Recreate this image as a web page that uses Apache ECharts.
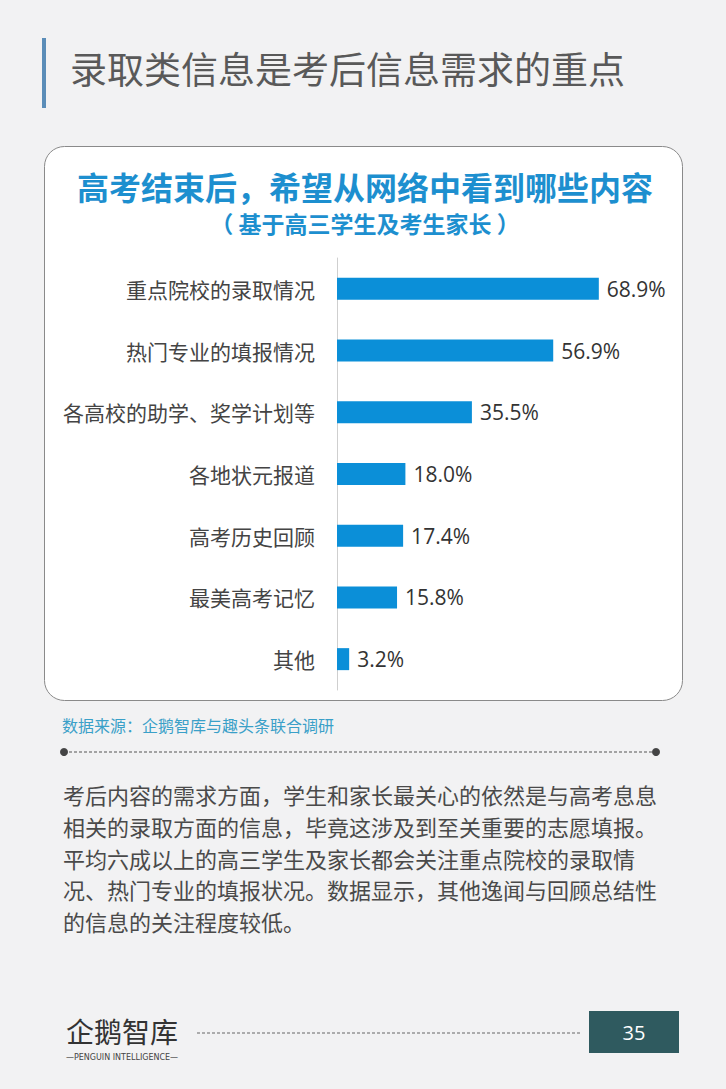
<!DOCTYPE html>
<html>
<head>
<meta charset="utf-8">
<script src="https://cdn.jsdelivr.net/npm/echarts@6/dist/echarts.min.js"></script>
<style>
html,body{margin:0;padding:0;background:#f2f2f3;}
#c{width:726px;height:1089px;}
</style>
</head>
<body>
<div id="c"></div>
<script>
var categories = ['重点院校的录取情况','热门专业的填报情况','各高校的助学、奖学计划等','各地状元报道','高考历史回顾','最美高考记忆','其他'];
var values = [68.9, 56.9, 35.5, 18.0, 17.4, 15.8, 3.2];
var paragraph = [
  '考后内容的需求方面，学生和家长最关心的依然是与高考息息',
  '相关的录取方面的信息，毕竟这涉及到至关重要的志愿填报。',
  '平均六成以上的高三学生及家长都会关注重点院校的录取情',
  '况、热门专业的填报状况。数据显示，其他逸闻与回顾总结性',
  '的信息的关注程度较低。'
];

var CJK = '"Noto Sans CJK SC", "Noto Sans", sans-serif';
var chart = echarts.init(document.getElementById('c'), null, {renderer: 'svg', width: 726, height: 1089});

var graphics = [
  {type:'rect', z:0, shape:{x:42,y:38,width:4,height:70}, style:{fill:'#5b8db8'}},
  {type:'text', z:1, style:{text:'录取类信息是考后信息需求的重点', x:70, y:68, font:'normal 37px ' + CJK, fill:'#595959', textAlign:'left', textVerticalAlign:'middle'}},
  {type:'rect', z:0, shape:{x:44.5,y:146.5,width:638,height:554,r:20}, style:{fill:'#ffffff', stroke:'#8a8a8a', lineWidth:1}},
  {type:'text', z:1, style:{text:'高考结束后，希望从网络中看到哪些内容', x:365, y:186, font:'bold 32px ' + CJK, fill:'#1d8fcf', textAlign:'center', textVerticalAlign:'middle'}},
  {type:'text', z:1, style:{text:'（ 基于高三学生及考生家长 ）', x:365, y:223, font:'bold 23px ' + CJK, fill:'#1d8fcf', textAlign:'center', textVerticalAlign:'middle'}},
  {type:'text', z:1, style:{text:'数据来源：企鹅智库与趣头条联合调研', x:62, y:725, font:'normal 16px ' + CJK, fill:'#3aa0c8', textAlign:'left', textVerticalAlign:'middle'}},
  {type:'line', z:1, shape:{x1:64,y1:752,x2:656,y2:752}, style:{stroke:'#555', lineWidth:1, lineDash:[3,2]}},
  {type:'circle', z:1, shape:{cx:64,cy:752,r:4}, style:{fill:'#444'}},
  {type:'circle', z:1, shape:{cx:656,cy:752,r:4}, style:{fill:'#444'}},
  {type:'line', z:1, shape:{x1:197,y1:1033,x2:580,y2:1033}, style:{stroke:'#666', lineWidth:1, lineDash:[3,2]}},
  {type:'rect', z:1, shape:{x:589,y:1011,width:90,height:42}, style:{fill:'#2f5a5f'}},
  {type:'text', z:2, style:{text:'35', x:634, y:1032, font:'normal 20px "Open Sans", sans-serif', fill:'#ffffff', textAlign:'center', textVerticalAlign:'middle'}},
  {type:'text', z:1, style:{text:'企鹅智库', x:66, y:1031, font:'normal 28px ' + CJK, fill:'#333', textAlign:'left', textVerticalAlign:'middle'}},
  {type:'text', z:1, style:{text:'—PENGUIN INTELLIGENCE—', x:122, y:1057, font:'normal 8px "DejaVu Sans", sans-serif', fill:'#444', textAlign:'center', textVerticalAlign:'middle'}}
];
paragraph.forEach(function(line, i){
  graphics.push({type:'text', z:1, style:{text:line, x:63, y:794 + i*31.8, font:'normal 22px ' + CJK, fill:'#4a4a4a', textAlign:'left', textVerticalAlign:'middle'}});
});

chart.setOption({
  animation: false,
  backgroundColor: '#f2f2f3',
  grid: {left:337, top:258, width:304, height:432, containLabel:false},
  xAxis: {type:'value', min:0, max:80, show:false},
  yAxis: {
    type:'category', data: categories, inverse: true,
    axisLine:{show:true, lineStyle:{color:'#cfcfcf', width:1}},
    axisTick:{show:false},
    axisLabel:{margin:22, fontSize:21, color:'#444', fontFamily: CJK}
  },
  series: [{
    type:'bar', data: values, barWidth:22, z:3,
    itemStyle:{color:'#0b8fd8'},
    label:{show:true, position:'right', distance:8, fontSize:21, color:'#333', fontFamily:'"Open Sans", sans-serif',
      formatter:function(p){return p.value.toFixed(1) + '%';}}
  }],
  graphic: graphics
});
</script>
</body>
</html>
